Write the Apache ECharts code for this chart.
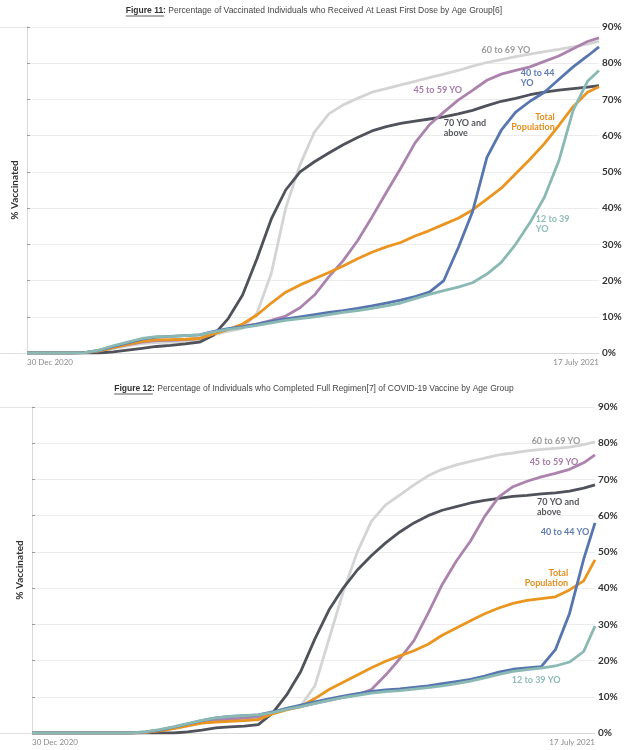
<!DOCTYPE html>
<html><head><meta charset="utf-8">
<script src="https://cdn.jsdelivr.net/npm/echarts@6/dist/echarts.min.js"></script>
<style>html,body{margin:0;padding:0;background:#fff}#c{width:629px;height:750px}</style>
</head><body><div id="c"></div>
<script>
// Days since 30 Dec 2020 (17 July 2021 = day 199)
const days = [0,5,10,15,20,25,30,35,40,45,50,55,60,65,70,75,80,85,90,95,100,105,110,115,120,125,130,135,140,145,150,155,160,165,170,175,180,185,190,195,199];
const xTickLabels = ['30 Dec 2020', '17 July 2021'];
const groupNames = ['60 to 69 YO', '70 YO and above', '45 to 59 YO', 'Total Population', '40 to 44 YO', '12 to 39 YO'];

// Figure 11: at least first dose (%)
const fig11_60to69 = [0,0,0,0,0.1,0.5,1.2,2.0,2.6,2.9,3.0,3.2,3.5,5.0,6.0,6.8,11,22,40,52,61,66,68.5,70.3,72,73,74,75,76,77,78,79.2,80.2,81,81.8,82.5,83.2,83.8,84.5,85.3,86];
const fig11_70plus = [0,0,0,0,0,0,0.3,0.8,1.3,1.8,2.1,2.5,3.0,5.0,9.5,16,26,37,45,50,52.8,55.2,57.5,59.5,61.3,62.5,63.4,64,64.6,65.2,66,67,68.3,69.5,70.3,71.3,72,72.6,73,73.4,73.8];
const fig11_45to59 = [0,0,0,0,0.1,0.6,1.5,2.3,3.0,3.4,3.5,3.7,4.0,5.5,6.6,7.3,8.0,9.0,10.2,12.5,16,21,25.5,31,37.5,44.3,51,58,63,66.5,69.8,72.5,75.3,77,78,79,80.5,82,84,86,87];
const fig11_total  = [0,0,0,0,0.1,0.6,1.5,2.4,3.2,3.6,3.7,3.8,4.0,5.3,6.5,8.0,10.5,13.8,16.8,18.8,20.5,22.2,24.0,26.0,27.8,29.3,30.5,32.3,33.8,35.5,37.2,39.5,42.5,45.5,49.5,53.5,57.8,62.8,68,72,73.5];
const fig11_40to44 = [0,0,0,0,0.1,0.7,1.8,2.8,3.8,4.4,4.6,4.8,5.0,6.0,6.7,7.3,8.0,8.7,9.4,10.0,10.6,11.2,11.7,12.3,13.0,13.8,14.6,15.6,16.8,20,29,39,54,61.5,66.5,69.5,72,75.5,79,82,84.5];
const fig11_12to39 = [0,0,0,0,0.1,0.8,2.0,3.0,4.0,4.5,4.6,4.8,5.0,5.8,6.5,7.0,7.6,8.3,9.0,9.5,10.0,10.6,11.2,11.7,12.3,13.0,13.8,15.0,16.2,17.2,18.2,19.4,21.8,25,30,36,43,53,67,75,78];

// Figure 12: completed full regimen (%)
const fig12_60to69 = [0,0,0,0,0,0,0,0,0.2,0.6,1.2,2.0,2.8,3.2,3.4,3.6,4.0,5.8,6.8,7.5,13,26,39,50,58.5,63,65.7,68.5,71,72.8,74,75,75.9,76.8,77.3,77.9,78.3,78.6,78.9,79.6,80.4];
const fig12_70plus = [0,0,0,0,0,0,0,0,0,0,0,0.3,0.8,1.4,1.7,1.9,2.3,5.5,10.5,17,26,34,40,45,49,52.5,55.5,58,60,61.5,62.5,63.5,64.2,64.8,65.3,65.6,66,66.3,66.8,67.6,68.5];
const fig12_45to59 = [0,0,0,0,0,0,0,0,0.2,0.7,1.4,2.3,3.0,3.5,3.8,4.1,4.5,5.6,6.5,7.3,8.2,9.0,9.8,10.6,12,16,20.5,25.5,33,41,47.5,53,59.8,65.2,68,69.5,70.7,71.7,72.8,74.6,76.8];
const fig12_total  = [0,0,0,0,0,0,0,0,0.2,0.6,1.2,2.0,2.7,3.0,3.2,3.4,3.7,5.3,6.4,7.3,9.5,12,14,16,18,19.8,21.3,22.7,24.5,27,29,31,32.9,34.5,35.8,36.6,37.1,37.6,39.5,42,47.8];
const fig12_40to44 = [0,0,0,0,0,0,0,0,0.3,0.8,1.6,2.5,3.4,4.2,4.6,4.8,5.0,5.8,6.8,7.7,8.6,9.4,10.2,10.9,11.5,11.9,12.2,12.6,13.0,13.6,14.2,14.8,15.7,16.8,17.6,18.0,18.3,23,33,48,58];
const fig12_12to39 = [0,0,0,0,0,0,0,0,0.3,0.9,1.7,2.6,3.5,4.2,4.6,4.8,5.0,5.6,6.5,7.3,8.2,9.0,9.8,10.4,11.0,11.4,11.7,12.1,12.5,13.0,13.6,14.3,15.2,16.2,17.0,17.5,17.9,18.5,19.6,22.5,29.5];

const lineColors  = ['#d4d4d4', '#4f525a', '#ab83ad', '#e9951f', '#5775ae', '#8ab9b4'];
const labelColors = ['#9b9b9b', '#55575e', '#a67aa8', '#e38f21', '#5f7cb3', '#8fbbb7'];

// Annotation anchors in data space [day, %]
const fig11Notes = [
  {g:0, text:'60 to 69 YO', at:[166.6, 83.7], align:'center'},
  {g:2, text:'45 to 59 YO', at:[142.9, 72.6], align:'center'},
  {g:1, text:'70 YO and\nabove', at:[145, 62], align:'left'},
  {g:4, text:'40 to 44\nYO', at:[171.8, 75.9], align:'left'},
  {g:3, text:'Total\nPopulation', at:[183.6, 63.8], align:'right'},
  {g:5, text:'12 to 39\nYO', at:[177, 35.6], align:'left'}
];
const fig12Notes = [
  {g:0, text:'60 to 69 YO', at:[185.2, 80.6], align:'center'},
  {g:2, text:'45 to 59 YO', at:[184.5, 74.8], align:'center'},
  {g:1, text:'70 YO and\nabove', at:[178.5, 62.4], align:'left'},
  {g:4, text:'40 to 44 YO', at:[188.4, 55.5], align:'center'},
  {g:3, text:'Total\nPopulation', at:[189.5, 42.8], align:'right'},
  {g:5, text:'12 to 39 YO', at:[178.2, 14.6], align:'center'}
];

const fig11 = [fig11_60to69, fig11_70plus, fig11_45to59, fig11_total, fig11_40to44, fig11_12to39];
const fig12 = [fig12_60to69, fig12_70plus, fig12_45to59, fig12_total, fig12_40to44, fig12_12to39];

const chart = echarts.init(document.getElementById('c'));

function xAxisFor(g) {
  return {
    gridIndex: g, type: 'value', min: 0, max: 199, interval: 199,
    axisLine: {lineStyle: {color: '#d9d9d9', width: 1}},
    axisTick: {show: false}, splitLine: {show: false},
    axisLabel: {
      formatter: v => (v === 0 ? xTickLabels[0] : xTickLabels[1]),
      color: '#8a8a8a', fontSize: 8, margin: 5, fontFamily: 'Lato',
      showMinLabel: true, showMaxLabel: true,
      alignMinLabel: 'left', alignMaxLabel: 'right',
      padding: [0, 0, 0, 0]
    }
  };
}
function yRight(g) {
  return {
    gridIndex: g, type: 'value', position: 'right', min: 0, max: 90, interval: 10,
    axisLine: {show: true, lineStyle: {color: '#d9d9d9'}},
    axisTick: {show: true, length: 3, lineStyle: {color: '#999'}},
    axisLabel: {formatter: '{value}%', fontWeight: 'bold', fontSize: 10, color: '#333', margin: 3, fontFamily: 'Lato'},
    splitLine: {lineStyle: {color: '#ececec'}}
  };
}
function yLeft(g) {
  return {
    gridIndex: g, type: 'value', position: 'left', min: 0, max: 90, interval: 10,
    axisLine: {show: true, lineStyle: {color: '#d9d9d9'}},
    axisTick: {show: false}, axisLabel: {show: false}, splitLine: {show: false},
    name: '% Vaccinated', nameLocation: 'middle', nameGap: 7,
    nameTextStyle: {fontWeight: 'bold', fontSize: 10, color: '#333', fontFamily: 'Lato'}
  };
}

const series = [];
[fig11, fig12].forEach((set, g) => {
  set.forEach((vals, i) => {
    series.push({
      name: groupNames[i], type: 'line', xAxisIndex: g, yAxisIndex: g * 2,
      data: days.map((d, k) => [d, vals[k]]),
      showSymbol: false, symbol: 'none', smooth: false,
      lineStyle: {color: lineColors[i], width: 2.8},
      itemStyle: {color: lineColors[i]},
      emphasis: {disabled: true}, silent: true, z: 2 + i
    });
  });
});

chart.setOption({
  animation: false,
  backgroundColor: '#fff',
  grid: [
    {left: 27, right: 30, top: 27, height: 326},
    {left: 32, right: 34, top: 407, height: 326}
  ],
  xAxis: [xAxisFor(0), xAxisFor(1)],
  yAxis: [yRight(0), yLeft(0), yRight(1), yLeft(1)],
  series: series
});

// Titles (bold underlined prefix + normal text), centred
const titleFont = '"Liberation Sans", Arial, sans-serif';
const titleSize = 8.5;
function titleEls(boldPart, rest, cx, cy) {
  const ctx = document.createElement('canvas').getContext('2d');
  ctx.font = 'bold ' + titleSize + 'px ' + titleFont;
  const w1 = ctx.measureText(boldPart).width;
  ctx.font = titleSize + 'px ' + titleFont;
  const w2 = ctx.measureText(rest).width;
  const x0 = cx - (w1 + w2) / 2;
  return [
    {type: 'text', x: x0, y: cy, silent: true, style: {text: boldPart, font: 'bold ' + titleSize + 'px ' + titleFont, fill: '#333', align: 'left', verticalAlign: 'middle', textAlign: 'left', textVerticalAlign: 'middle'}},
    {type: 'text', x: x0 + w1, y: cy, silent: true, style: {text: rest, font: titleSize + 'px ' + titleFont, fill: '#444', align: 'left', verticalAlign: 'middle', textAlign: 'left', textVerticalAlign: 'middle'}},
    {type: 'line', silent: true, shape: {x1: x0, y1: cy + 5, x2: x0 + w1 - 2, y2: cy + 5}, style: {stroke: '#333', lineWidth: 0.8}}
  ];
}

const graphics = [];
graphics.push(...titleEls('Figure 11:', ' Percentage of Vaccinated Individuals who Received At Least First Dose by Age Group[6]', 314, 11));
graphics.push(...titleEls('Figure 12:', ' Percentage of Individuals who Completed Full Regimen[7] of COVID-19 Vaccine by Age Group', 314, 389));

// Frame lines extending to the left page edge (top border and baseline), from axis extents
[0, 1].forEach(g => {
  const top = chart.convertToPixel({xAxisIndex: g, yAxisIndex: g * 2}, [0, 90]);
  const bot = chart.convertToPixel({xAxisIndex: g, yAxisIndex: g * 2}, [0, 0]);
  graphics.push({type: 'line', silent: true, z: 0, shape: {x1: 0, y1: Math.round(top[1]) + 0.5, x2: top[0], y2: Math.round(top[1]) + 0.5}, style: {stroke: '#e6e6e6', lineWidth: 1}});
  graphics.push({type: 'line', silent: true, z: 0, shape: {x1: 0, y1: Math.round(bot[1]) + 0.5, x2: bot[0], y2: Math.round(bot[1]) + 0.5}, style: {stroke: '#e0e0e0', lineWidth: 1}});
});

[fig11Notes, fig12Notes].forEach((notes, g) => {
  notes.forEach(n => {
    const p = chart.convertToPixel({xAxisIndex: g, yAxisIndex: g * 2}, n.at);
    graphics.push({
      type: 'text', x: p[0], y: p[1], silent: true, z: 100,
      style: {
        text: n.text, font: 'bold 9px Lato, sans-serif', fill: labelColors[n.g],
        align: n.align, verticalAlign: 'middle', textAlign: n.align, textVerticalAlign: 'middle',
        lineHeight: 10
      }
    });
  });
});

chart.setOption({graphic: graphics});
</script>
</body></html>
